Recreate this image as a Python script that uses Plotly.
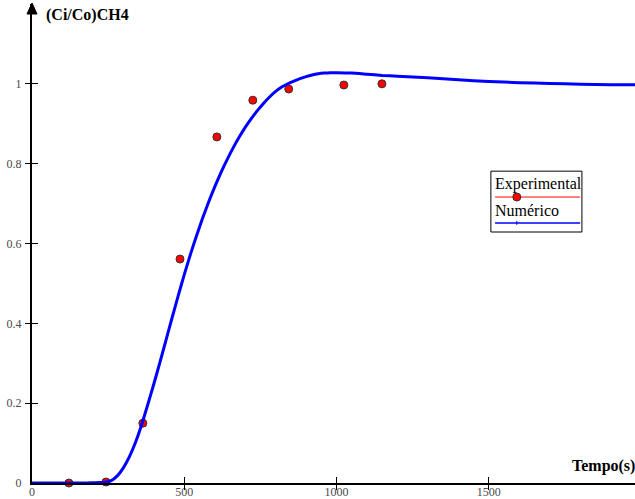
import plotly.graph_objects as go

# Experimental breakthrough points for CH4
t_exp = [121, 243, 364, 486, 607, 725, 843, 1024, 1149]
c_exp = [0.0, 0.0025, 0.15, 0.561, 0.867, 0.959, 0.987, 0.997, 1.0]

# Numerical model curve
t_num = [0, 100, 180, 200, 220, 240, 260, 280, 300, 320, 340, 360, 380, 400, 420,
         440, 460, 480, 500, 520, 540, 560, 580, 600, 620, 640, 660, 680, 700, 720,
         740, 760, 780, 800, 820, 840, 860, 880, 900, 920, 940, 960, 980, 1000,
         1050, 1100, 1150, 1200, 1300, 1400, 1500, 1600, 1700, 1800, 1900, 1980]
c_num = [0.0, 0.0, 0.0, 0.0005, 0.001, 0.002, 0.006, 0.018, 0.038, 0.066, 0.102,
         0.146, 0.196, 0.248, 0.302, 0.358, 0.414, 0.469, 0.522, 0.572, 0.619,
         0.663, 0.704, 0.742, 0.777, 0.809, 0.839, 0.866, 0.891, 0.913, 0.933,
         0.951, 0.967, 0.981, 0.992, 1.0, 1.007, 1.013, 1.018, 1.022, 1.025,
         1.027, 1.028, 1.028, 1.027, 1.024, 1.021, 1.019, 1.015, 1.01, 1.006,
         1.003, 1.001, 0.999, 0.998, 0.998]

x_ticks = [0, 500, 1000, 1500]
y_ticks = [0, 0.2, 0.4, 0.6, 0.8, 1]
y_tick_text = ["0", "0.2", "0.4", "0.6", "0.8", "1"]

serif = "Liberation Serif"

fig = go.Figure()
fig.add_trace(go.Scatter(
    x=t_exp, y=c_exp, mode="markers", name="Experimental",
    marker=dict(color="#ff0000", size=8, line=dict(color="#333333", width=1)),
    cliponaxis=False,
))
fig.add_trace(go.Scatter(
    x=t_num, y=c_num, mode="lines", name="Numérico",
    line=dict(color="#0000ff", width=3, shape="spline", smoothing=0.5),
    cliponaxis=False,
))
# invisible trace carrying the outward half of the axis ticks
fig.add_trace(go.Scatter(x=[None], y=[None], yaxis="y2", xaxis="x2",
                         showlegend=False, hoverinfo="skip"))

tick_font = dict(family=serif, size=12, color="#4a4a4a")
fig.update_layout(
    width=635, height=499,
    margin=dict(l=32, r=0, t=4, b=16),
    paper_bgcolor="white", plot_bgcolor="white",
    showlegend=False,
    xaxis=dict(range=[0, 1980], tickvals=x_ticks, ticks="inside", ticklen=6,
               tickwidth=1, tickcolor="black", showgrid=False, zeroline=False,
               showline=True, linecolor="black", linewidth=2, tickfont=tick_font,
               automargin=False, ticklabelstandoff=-3),
    yaxis=dict(range=[0, 1.2], tickvals=y_ticks, ticktext=y_tick_text,
               ticks="inside", ticklen=6, tickwidth=1, tickcolor="black",
               showgrid=False, zeroline=False, showline=True, linecolor="black",
               linewidth=2, tickfont=tick_font, automargin=False,
               ticklabelstandoff=6),
    xaxis2=dict(range=[0, 1980], overlaying="x", tickvals=[500, 1000, 1500],
                side="bottom", anchor="y",
                ticks="outside", ticklen=6, tickwidth=1, tickcolor="black",
                showticklabels=False, showgrid=False, zeroline=False,
                showline=False, automargin=False),
    yaxis2=dict(range=[0, 1.2], overlaying="y", tickvals=y_ticks[1:],
                side="left", anchor="x",
                ticks="outside", ticklen=6, tickwidth=1, tickcolor="black",
                showticklabels=False, showgrid=False, zeroline=False,
                showline=False, automargin=False),
)

# arrow head on top of the y axis
fig.add_shape(type="path", xref="paper", yref="paper",
              xsizemode="pixel", ysizemode="pixel", xanchor=0, yanchor=1,
              path="M -5,-10 L 0,1 L 5,-10 Z",
              fillcolor="black", line=dict(color="black", width=1))

# axis titles
fig.add_annotation(text="<b>(Ci/Co)CH4</b>", xref="paper", yref="paper",
                   x=0.02, y=0.978, xanchor="left", yanchor="middle",
                   showarrow=False, font=dict(family=serif, size=16, color="black"))
fig.add_annotation(text="<b>Tempo(s)</b>", xref="paper", yref="paper",
                   x=0.893, y=0.035, xanchor="left", yanchor="middle",
                   showarrow=False, font=dict(family=serif, size=16, color="black"))

# hand-drawn legend box
fig.add_shape(type="rect", xref="paper", yref="paper",
              x0=0.761, x1=0.912, y0=0.524, y1=0.651,
              line=dict(color="black", width=1), fillcolor="white")
fig.add_shape(type="line", xref="paper", yref="paper",
              x0=0.768, x1=0.909, y0=0.597, y1=0.597,
              line=dict(color="#ff0000", width=1))
fig.add_shape(type="line", xref="paper", yref="paper",
              x0=0.768, x1=0.909, y0=0.543, y1=0.543,
              line=dict(color="#0000ff", width=1.5))
fig.add_shape(type="circle", xref="paper", yref="paper",
              xsizemode="pixel", ysizemode="pixel", xanchor=0.804, yanchor=0.597,
              x0=-4, x1=4, y0=-4, y1=4,
              fillcolor="#ff0000", line=dict(color="#333333", width=1))
fig.add_shape(type="line", xref="paper", yref="paper",
              xsizemode="pixel", ysizemode="pixel", xanchor=0.804, yanchor=0.543,
              x0=0, x1=0, y0=-2, y1=2,
              line=dict(color="#0000ff", width=1))
fig.add_annotation(text="Experimental", xref="paper", yref="paper",
                   x=0.765, y=0.624, xanchor="left", yanchor="middle",
                   showarrow=False, font=dict(family=serif, size=16, color="black"))
fig.add_annotation(text="Numérico", xref="paper", yref="paper",
                   x=0.765, y=0.569, xanchor="left", yanchor="middle",
                   showarrow=False, font=dict(family=serif, size=16, color="black"))

fig.write_html("out.html")
